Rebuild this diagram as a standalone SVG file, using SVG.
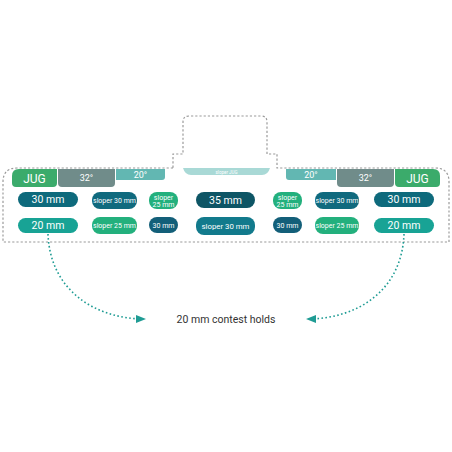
<svg xmlns="http://www.w3.org/2000/svg" width="452" height="452" viewBox="0 0 452 452">
<defs>
<style>
.t{font-family:Roboto,"DejaVu Sans",sans-serif;fill:#fff;text-anchor:middle;font-weight:400}
.big{font-size:10.5px}
.sm{font-size:7px}
.hd{font-size:12px}
.deg{font-size:9px}
.outline{fill:none;stroke:#9a9a9a;stroke-width:1.2;stroke-dasharray:2.2 2}
.conn{fill:none;stroke:#1f9c94;stroke-width:1.6;stroke-dasharray:1.6 2.4}
</style>
<marker id="ah" viewBox="0 0 10 8" refX="9" refY="4" markerWidth="10" markerHeight="8" markerUnits="userSpaceOnUse" orient="auto">
<path d="M0,0 L10,4 L0,8 Z" fill="#1f9c94"/>
</marker>
</defs>
<rect width="452" height="452" fill="#fff"/>
<g id="outline">
<path class="outline" d="M173,168 L17,168 Q3,168 3,182 L3,242 L449,242 L449,182 Q449,168 435,168 L277,168 L277,154 L267,154 L267,122 Q267,116 261,116 L189,116 Q183,116 183,122 L183,154 L173,154 Z"/>
</g>
<g id="jug-left"><path d="M12,176 Q12,169 19,169 L57,169 L57,183 Q57,187 53,187 L16,187 Q12,187 12,183 Z" fill="#3bab6b"/><text class="t hd" x="34.5" y="182.5">JUG</text></g>
<g id="deg32-left"><path d="M58,169 L115,169 L115,183 Q115,187 111,187 L62,187 Q58,187 58,183 Z" fill="#708c8a"/><text class="t deg" x="86.5" y="181">32°</text></g>
<g id="deg20-left"><path d="M116,169 L165,169 L165,177 Q165,180 162,180 L116,180 Z" fill="#62b7b2"/><text class="t deg" x="140.5" y="177.5">20°</text></g>
<g id="sloper-jug"><path d="M183,168 L270,168 Q268,175 262,175 L191,175 Q185,175 183,168 Z" fill="#a9d9d6"/><text class="t" style="font-size:4.5px" x="226.5" y="173.5">sloper JUG</text></g>
<g id="deg20-right"><path d="M286,169 L336,169 L336,180 L289,180 Q286,180 286,177 Z" fill="#62b7b2"/><text class="t deg" x="311" y="177.5">20°</text></g>
<g id="deg32-right"><path d="M337,169 L394,169 L394,183 Q394,187 390,187 L341,187 Q337,187 337,183 Z" fill="#708c8a"/><text class="t deg" x="365.5" y="181">32°</text></g>
<g id="jug-right"><path d="M395,169 L433,169 Q440,169 440,176 L440,183 Q440,187 436,187 L399,187 Q395,187 395,183 Z" fill="#3bab6b"/><text class="t hd" x="417.5" y="182.5">JUG</text></g>

<g id="l30"><rect x="18" y="192" width="60" height="15" rx="7.5" fill="#0e6a7c"/><text class="t big" x="48" y="203.2">30 mm</text></g>
<g id="l20"><rect x="18" y="218" width="60" height="15" rx="7.5" fill="#18a395"/><text class="t big" x="48" y="229.2">20 mm</text></g>
<g id="ls30"><rect x="92" y="192" width="45" height="17" rx="8" fill="#106a7e"/><text class="t sm" x="114.5" y="203">sloper 30 mm</text></g>
<g id="ls25"><rect x="92" y="217" width="45" height="17" rx="8" fill="#23b07d"/><text class="t sm" x="114.5" y="228">sloper 25 mm</text></g>
<g id="lm25"><rect x="149" y="192" width="29" height="17" rx="8" fill="#23b07d"/><text class="t sm" x="163.5" y="199.5">sloper</text><text class="t sm" x="163.5" y="206.5">25 mm</text></g>
<g id="lm30"><rect x="149" y="217" width="29" height="16" rx="8" fill="#135f79"/><text class="t sm" x="163.5" y="227.5">30 mm</text></g>
<g id="c35"><rect x="196" y="192" width="59" height="16" rx="8" fill="#0e5565"/><text class="t big" x="225.5" y="203.7">35 mm</text></g>
<g id="cs30"><rect x="196" y="217" width="59" height="18" rx="8" fill="#127a8c"/><text class="t" style="font-size:7.8px" x="225.5" y="228.7">sloper 30 mm</text></g>
<g id="rm25"><rect x="273" y="192" width="29" height="17" rx="8" fill="#23b07d"/><text class="t sm" x="287.5" y="199.5">sloper</text><text class="t sm" x="287.5" y="206.5">25 mm</text></g>
<g id="rm30"><rect x="273" y="217" width="29" height="16" rx="8" fill="#135f79"/><text class="t sm" x="287.5" y="227.5">30 mm</text></g>
<g id="rs30"><rect x="315" y="192" width="44" height="17" rx="8" fill="#106a7e"/><text class="t sm" x="337" y="203">sloper 30 mm</text></g>
<g id="rs25"><rect x="315" y="217" width="44" height="17" rx="8" fill="#23b07d"/><text class="t sm" x="337" y="228">sloper 25 mm</text></g>
<g id="r30"><rect x="374" y="192" width="60" height="15" rx="7.5" fill="#0e6a7c"/><text class="t big" x="404" y="203.2">30 mm</text></g>
<g id="r20"><rect x="374" y="218" width="60" height="15" rx="7.5" fill="#18a395"/><text class="t big" x="404" y="229.2">20 mm</text></g>

<g id="connectors">
<path class="conn" d="M48,234 C50,290 95,319 145,319" marker-end="url(#ah)"/>
<path class="conn" d="M404,234 C402,290 358,319 307,319" marker-end="url(#ah)"/>
</g>
<g id="caption"><text x="226" y="323" style="font-family:Roboto,'DejaVu Sans',sans-serif;font-size:10.5px;fill:#333;text-anchor:middle">20 mm contest holds</text></g>
</svg>
